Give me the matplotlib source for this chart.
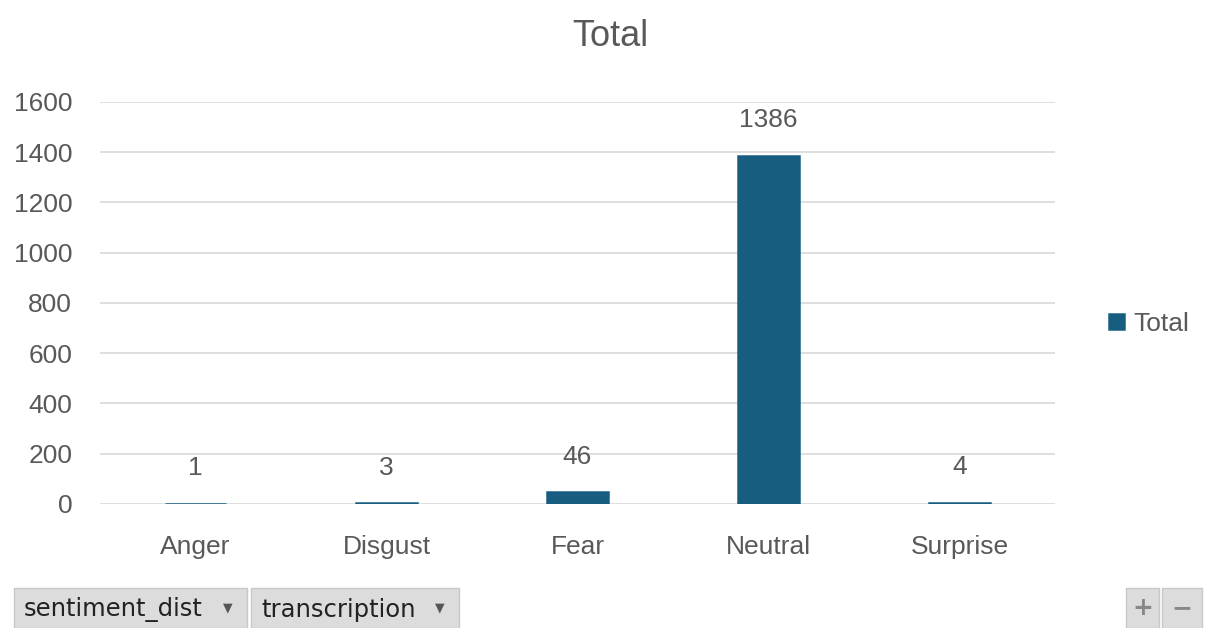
import matplotlib.pyplot as plt
from matplotlib.patches import Rectangle

categories = ['Anger', 'Disgust', 'Fear', 'Neutral', 'Surprise']
totals = [1, 3, 46, 1386, 4]
y_ticks = [0, 200, 400, 600, 800, 1000, 1200, 1400, 1600]

bar_color = '#175d80'
text_color = '#595959'
grid_color = '#d9d9d9'

plt.rcParams['font.family'] = ['Liberation Sans', 'DejaVu Sans']

fig = plt.figure(figsize=(12.06, 6.28), dpi=100)
ax = fig.add_axes([0.0829, 0.1975, 0.7919, 0.6401])

x = range(len(categories))
bars = ax.bar(x, totals, width=0.315, color=bar_color, edgecolor=bar_color,
              linewidth=1.8, label='Total', zorder=3)

# value labels above each bar
for xi, v in zip(x, totals):
    ax.annotate(str(v), (xi, v), xytext=(0, 17), textcoords='offset points',
                ha='center', va='bottom', fontsize=19, color=text_color)

ax.set_xlim(-0.5, len(categories) - 0.5)
ax.set_ylim(0, 1600)
ax.set_yticks(y_ticks)
ax.set_xticks(list(x))
ax.set_xticklabels(categories)
ax.tick_params(axis='both', length=0, labelsize=19, labelcolor=text_color)
ax.tick_params(axis='y', pad=20)
ax.tick_params(axis='x', pad=22)
ax.yaxis.grid(True, color=grid_color, linewidth=1.2, zorder=0)
for s in ax.spines.values():
    s.set_visible(False)

fig.text(0.506, 0.942, 'Total', ha='center', va='center', fontsize=26, color=text_color)

leg = ax.legend(loc='center left', bbox_to_anchor=(1.057, 0.448), frameon=False,
                fontsize=19, handlelength=0.55, handleheight=0.55, handletextpad=0.35,
                borderpad=0, borderaxespad=0, labelcolor=text_color)

# field buttons along the bottom
W, H = 1206, 628
def button(x0, x1, label=None, sym=None):
    fig.patches.append(Rectangle((x0 / W, 0), (x1 - x0) / W, 40 / H,
                                 transform=fig.transFigure, facecolor='#dcdcdc',
                                 edgecolor='#c8c8c8', linewidth=1))
    if label:
        fig.text((x0 + 10) / W, 18 / H, label, ha='left', va='center',
                 fontsize=17.5, color='#222222', family='DejaVu Sans')
        fig.text((x1 - 14) / W, 20 / H, '\u25bc', ha='right', va='center',
                 fontsize=9, color='#555555', family='DejaVu Sans')
    if sym:
        fig.text((x0 + x1) / 2 / W, 20 / H, sym, ha='center', va='center',
                 fontsize=18, color='#888888', fontweight='bold', family='DejaVu Sans')

button(14, 247, 'sentiment_dist')
button(251, 459, 'transcription')
button(1126, 1159, sym='+')
button(1162, 1202, sym='\u2212')

fig.savefig('out.png', dpi=100, facecolor='white')
